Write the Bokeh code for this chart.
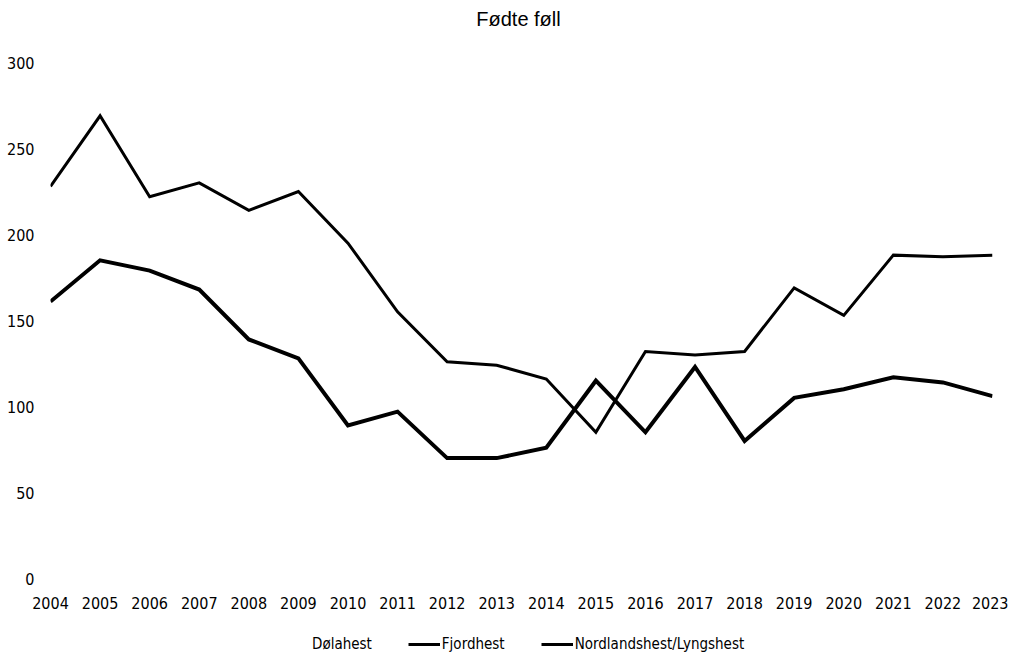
from bokeh.plotting import figure
from bokeh.layouts import column
from bokeh.models import Range1d, Legend, LegendItem, FixedTicker, ColumnDataSource, Label
from bokeh.embed import file_html
from bokeh.resources import INLINE

years = list(range(2004, 2024))
fjordhest = [228, 269, 222, 230, 214, 225, 195, 155, 126, 124, 116, 85, 132, 130, 132, 169, 153, 188, 187, 188]
nordlandshest = [161, 185, 179, 168, 139, 128, 89, 97, 70, 70, 76, 115, 85, 123, 80, 105, 110, 117, 114, 106]
dolahest = []  # not visible in the reference (drawn in white)
y_ticks = [0, 50, 100, 150, 200, 250, 300]
series_names = ["Dølahest", "Fjordhest", "Nordlandshest/Lyngshest"]
title_text = "Fødte føll"

FONT = "'Liberation Sans Narrow', 'DejaVu Sans Condensed', sans-serif"

def strip(h):
    f = figure(width=1008, height=h, output_backend="svg", toolbar_location=None,
               x_range=Range1d(0, 1), y_range=Range1d(0, 1),
               min_border_left=0, min_border_right=0, min_border_top=0, min_border_bottom=0)
    f.axis.visible = False
    f.grid.visible = False
    f.outline_line_color = None
    return f

# title strip
top = strip(38)
top.add_layout(Label(x=468, y=20, x_units="screen", y_units="screen", text=title_text,
                     text_align="center", text_baseline="middle",
                     text_font="'Liberation Sans', Arial, sans-serif",
                     text_font_size="20px", text_color="#000000"))

p = figure(frame_width=942, frame_height=516, output_backend="svg", toolbar_location=None,
           x_range=Range1d(2004, 2023), y_range=Range1d(0, 300),
           min_border_left=50, min_border_right=16, min_border_top=24, min_border_bottom=0)
p.outline_line_color = None
p.grid.visible = False
p.background_fill_color = "white"

for ax in (p.xaxis[0], p.yaxis[0]):
    ax.axis_line_color = None
    ax.major_tick_line_color = None
    ax.minor_tick_line_color = None
    ax.major_tick_out = 0
    ax.major_tick_in = 0
    ax.major_label_text_font = FONT
    ax.major_label_text_font_size = "16px"
    ax.major_label_text_color = "#000000"

p.xaxis[0].ticker = FixedTicker(ticks=years)
p.xaxis[0].major_label_standoff = 18
p.yaxis[0].ticker = FixedTicker(ticks=y_ticks)
p.yaxis[0].major_label_standoff = 16

src = ColumnDataSource(dict(x=years, f=fjordhest, n=nordlandshest))
p.line("x", "f", source=src, line_color="black", line_width=3, line_join="miter")
p.line("x", "n", source=src, line_color="black", line_width=4, line_join="miter")

# legend strip below the chart (proxy renderers lie outside the strip's visible range)
lg = strip(42)
proxy = ColumnDataSource(dict(x=[5, 6], y=[5, 5]))
ld = lg.line("x", "y", source=proxy, line_color="white", line_width=3)
lf = lg.line("x", "y", source=proxy, line_color="black", line_width=3)
ln = lg.line("x", "y", source=proxy, line_color="black", line_width=3)

legend = Legend(items=[LegendItem(label=series_names[0], renderers=[ld]),
                       LegendItem(label=series_names[1], renderers=[lf]),
                       LegendItem(label=series_names[2], renderers=[ln])],
                orientation="horizontal", location=(228, 0),
                glyph_width=32, glyph_height=16, label_standoff=2, spacing=36,
                label_height=16,
                label_text_font=FONT, label_text_font_size="15px",
                label_text_color="#000000",
                border_line_color=None, background_fill_alpha=0,
                padding=0, margin=0)
lg.add_layout(legend, "center")

layout = column(top, p, lg, spacing=0)
open("out.html", "w").write(file_html(layout, INLINE))
